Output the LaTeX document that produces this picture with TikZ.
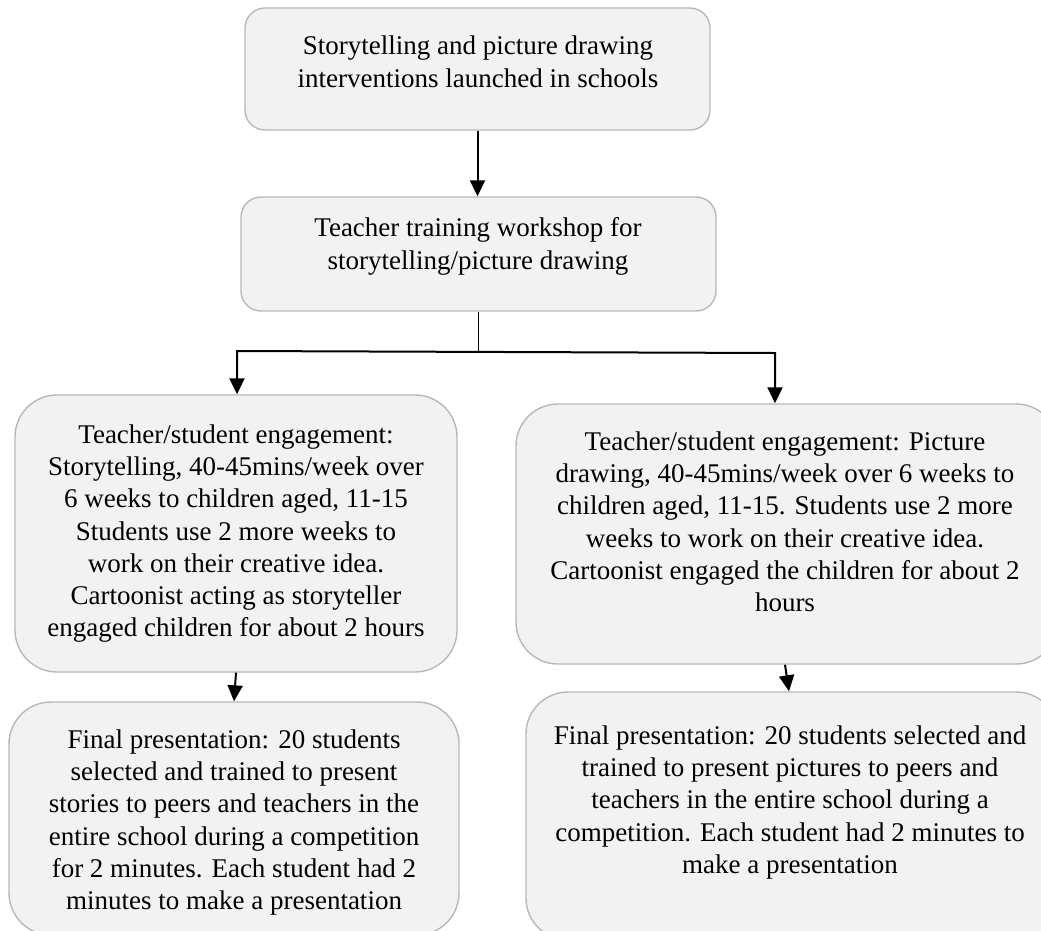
\documentclass[tikz,border=0pt]{standalone}
\usepackage{fontspec}
\setmainfont{Liberation Serif}
\usetikzlibrary{arrows.meta}
\definecolor{boxfill}{HTML}{F2F2F2}
\definecolor{boxline}{HTML}{B8B8B8}
\begin{document}
\begin{tikzpicture}[x=1pt,y=-1pt,
  box/.style={draw=boxline, fill=boxfill, line width=1.4pt, inner sep=0pt},
  smallbox/.style={box, rounded corners=20pt},
  bigbox/.style={box, rounded corners=42pt},
  txt/.style={align=center, inner sep=0pt, anchor=north, font=\fontsize{27}{32.2}\selectfont},
  tip/.tip={Triangle[width=15pt,length=16pt]},
  arr/.style={line width=2pt, -tip},
  twoarr/.style={line width=2pt, tip-tip},
  thinline/.style={line width=1pt}
]
\useasboundingbox (0,0) rectangle (1041,930);
\clip (0,0) rectangle (1041,930);

% boxes
\node[smallbox, minimum width=465pt, minimum height=122pt] (b1) at (477.5,69) {};
\node[smallbox, minimum width=475pt, minimum height=114pt] (b2) at (478.5,254) {};
\node[bigbox, minimum width=442pt, minimum height=277pt] (b3L) at (236,533.5) {};
\node[bigbox, minimum width=542pt, minimum height=260pt] (b3R) at (787,534) {};
\node[bigbox, minimum width=450pt, minimum height=233pt] (b4L) at (234,818.5) {};
\node[bigbox, minimum width=532pt, minimum height=248pt] (b4R) at (792,816) {};

% texts
\node[txt] (t1) at (478,36) {Storytelling and picture drawing\\interventions launched in schools};
\node[txt] (t2) at (478,217.6) {Teacher training workshop for\\storytelling/picture drawing};
\node[txt] (t3L) at (236,424.6) {Teacher/student engagement:\\Storytelling, 40-45mins/week over\\6 weeks to children aged, 11-15\\Students use 2 more weeks to\\work on their creative idea.\\Cartoonist acting as storyteller\\engaged children for about 2 hours};
\node[txt] (t3R) at (785,431.6) {Teacher/student engagement: Picture\\drawing, 40-45mins/week over 6 weeks to\\children aged, 11-15. Students use 2 more\\weeks to work on their creative idea.\\Cartoonist engaged the children for about 2\\hours};
\node[txt] (t4L) at (234,729.6) {Final presentation: 20 students\\selected and trained to present\\stories to peers and teachers in the\\entire school during a competition\\for 2 minutes. Each student had 2\\minutes to make a presentation};
\node[txt] (t4R) at (790,725.6) {Final presentation: 20 students selected and\\trained to present pictures to peers and\\teachers in the entire school during a\\competition. Each student had 2 minutes to\\make a presentation};

% connectors
\coordinate (j) at (479,352);
\coordinate (jl) at (237,351);
\coordinate (jr) at (775,353);
\draw[arr] (b1.south) -- (b1.south |- b2.north);
\draw[thinline] (b2.south) -- (b2.south |- j);
\draw[twoarr] (jl |- b3L.north) -- (jl) -- (jr) -- (jr |- b3R.north);
\draw[arr] (b3L.south) -- (b4L.north);
\draw[arr] ([xshift=-2pt]b3R.south) -- ([xshift=-3pt]b4R.north);
\end{tikzpicture}
\end{document}
